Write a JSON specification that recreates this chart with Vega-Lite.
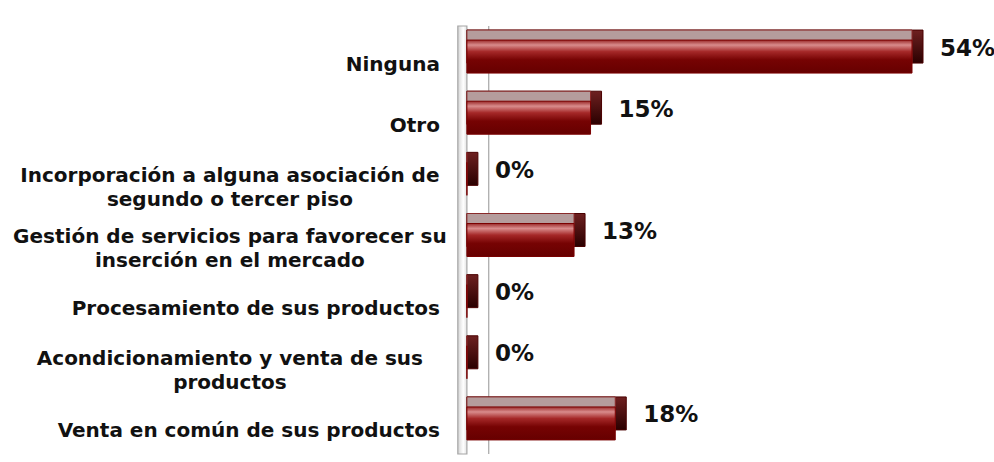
{
  "$schema": "https://vega.github.io/schema/vega-lite/v6.json",
  "width": 455,
  "height": 428,
  "autosize": {"type": "none"},
  "padding": {"left": 457, "top": 26, "right": 82, "bottom": 8},
  "background": "white",
  "config": {"view": {"stroke": null}},
  "data": {
    "values": [
      {"cat": "Ninguna", "value": 54, "label": "54%"},
      {"cat": "Otro", "value": 15, "label": "15%"},
      {"cat": "Incorporación a alguna asociación de|segundo o tercer piso", "value": 0, "label": "0%"},
      {"cat": "Gestión de servicios para favorecer su|inserción en el mercado", "value": 13, "label": "13%"},
      {"cat": "Procesamiento de sus productos", "value": 0, "label": "0%"},
      {"cat": "Acondicionamiento y venta de sus|productos", "value": 0, "label": "0%"},
      {"cat": "Venta en común de sus productos", "value": 18, "label": "18%"}
    ]
  },
  "encoding": {
    "y": {"field": "cat", "type": "nominal", "sort": null, "axis": null,
          "scale": {"paddingInner": 0, "paddingOuter": 0}}
  },
  "layer": [
    {
      "data": {"values": [{"w": 1}]},
      "mark": {"type": "rect", "stroke": "#a6a6a6", "strokeWidth": 1.2,
               "fill": {"gradient": "linear", "x1": 0, "y1": 0, "x2": 1, "y2": 0,
                        "stops": [{"offset": 0, "color": "#d4d4d4"}, {"offset": 0.6, "color": "#ffffff"}, {"offset": 1, "color": "#e2e2e2"}]}},
      "encoding": {
        "y": null,
        "x": {"datum": -1.1, "type": "quantitative", "scale": {"domain": [-1.2, 54], "nice": false, "zero": false}, "axis": null},
        "x2": {"datum": 0}
      }
    },
    {
      "data": {"values": [{"w": 1}]},
      "mark": {"type": "rule", "color": "#a6a6a6", "strokeWidth": 1.2},
      "encoding": {
        "y": null,
        "x": {"datum": 2.65, "type": "quantitative"}
      }
    },
    {
      "mark": {"type": "bar", "size": 33, "xOffset": 11, "yOffset": -10, "y2Offset": -10,
               "stroke": "#4a0000", "strokeWidth": 1,
               "fill": {"gradient": "linear", "x1": 0, "y1": 0, "x2": 0, "y2": 1,
                        "stops": [{"offset": 0, "color": "#6e2020"}, {"offset": 1, "color": "#2a0000"}]}},
      "encoding": {
        "x": {"field": "value", "type": "quantitative"},
        "x2": {"datum": 0}
      }
    },
    {
      "mark": {"type": "bar", "size": 33, "yOffset": -10, "y2Offset": -10,
               "stroke": "#8a2a2a", "strokeWidth": 1, "fill": "#b59c9c"},
      "encoding": {
        "x": {"field": "value", "type": "quantitative"},
        "x2": {"datum": 0}
      }
    },
    {
      "mark": {"type": "bar", "size": 33, "stroke": "#7a0000", "strokeWidth": 1,
               "fill": {"gradient": "linear", "x1": 0, "y1": 0, "x2": 0, "y2": 1,
                        "stops": [{"offset": 0, "color": "#9a2a2a"}, {"offset": 0.15, "color": "#d98c8c"},
                                  {"offset": 0.35, "color": "#a52828"}, {"offset": 0.6, "color": "#760303"},
                                  {"offset": 1, "color": "#660000"}]}},
      "encoding": {
        "x": {"field": "value", "type": "quantitative"},
        "x2": {"datum": 0}
      }
    },
    {
      "mark": {"type": "text", "align": "left", "baseline": "middle", "dx": 28, "dy": -8,
               "font": "DejaVu Sans", "fontWeight": "bold", "fontSize": 23, "color": "#111111"},
      "encoding": {
        "x": {"field": "value", "type": "quantitative"},
        "text": {"field": "label"}
      }
    },
    {
      "transform": [{"filter": "indexof(datum.cat, '|') < 0"}],
      "mark": {"type": "text", "align": "right", "baseline": "middle", "dx": -27, "dy": 8,
               "font": "DejaVu Sans", "fontWeight": "bold", "fontSize": 20, "color": "#111111"},
      "encoding": {
        "x": {"datum": 0, "type": "quantitative"},
        "text": {"field": "cat"}
      }
    },
    {
      "transform": [{"filter": "indexof(datum.cat, '|') >= 0"}],
      "mark": {"type": "text", "align": "center", "baseline": "middle", "dx": -237, "dy": -3,
               "lineBreak": "|", "lineHeight": 24,
               "font": "DejaVu Sans", "fontWeight": "bold", "fontSize": 20, "color": "#111111"},
      "encoding": {
        "x": {"datum": 0, "type": "quantitative"},
        "text": {"field": "cat"}
      }
    }
  ]
}
